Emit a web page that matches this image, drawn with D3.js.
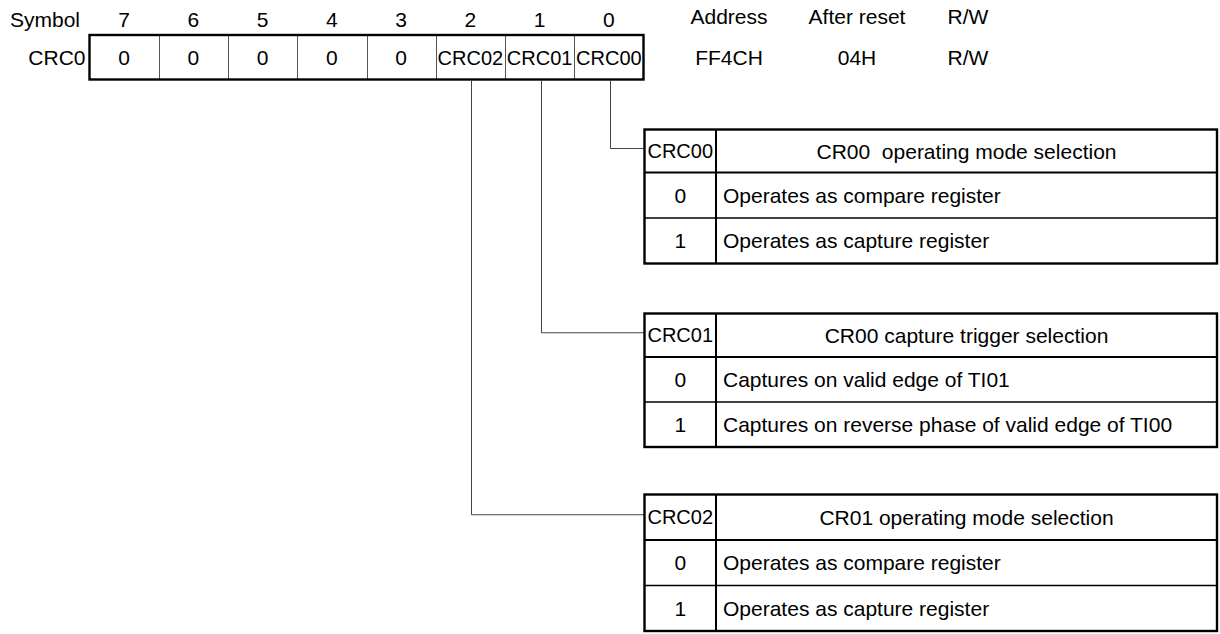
<!DOCTYPE html>
<html>
<head>
<meta charset="utf-8">
<script src="https://cdn.jsdelivr.net/npm/d3@7"></script>
<style>
  html, body { margin: 0; padding: 0; background: #fff; }
  svg text { font-family: "Liberation Sans", Arial, Helvetica, sans-serif; fill: #000; white-space: pre; }
</style>
</head>
<body>
<svg id="chart" width="1220" height="634"></svg>
<script>
// ---- data ----
const symbolLabel = "Symbol";
const registerName = "CRC0";
const bitNumbers = [7, 6, 5, 4, 3, 2, 1, 0];
const bitNames = ["0", "0", "0", "0", "0", "CRC02", "CRC01", "CRC00"];
const infoHeaders = ["Address", "After reset", "R/W"];
const infoValues = ["FF4CH", "04H", "R/W"];
const fieldNames = ["CRC00", "CRC01", "CRC02"];
const fieldTitles = ["CR00  operating mode selection", "CR00 capture trigger selection", "CR01 operating mode selection"];
const fieldSettings = ["0", "1"];
const crc00Desc = ["Operates as compare register", "Operates as capture register"];
const crc01Desc = ["Captures on valid edge of TI01", "Captures on reverse phase of valid edge of TI00"];
const crc02Desc = ["Operates as compare register", "Operates as capture register"];

// ---- layout ----
const svg = d3.select("#chart");
const FS = 21;
const regTop = 35, regBottom = 79.5;
const x = d3.scaleBand().domain(bitNumbers).range([89.5, 643.5]);
const infoX = d3.scalePoint().domain(infoHeaders).range([729, 857]);
const infoXs = [729, 857, 968];

// header row
svg.append("text").attr("x", 10).attr("y", 27).attr("font-size", FS).text(symbolLabel);
svg.selectAll(".bitnum").data(bitNumbers).join("text")
  .attr("class", "bitnum")
  .attr("x", d => x(d) + x.bandwidth() / 2)
  .attr("y", 27).attr("text-anchor", "middle").attr("font-size", FS)
  .text(d => d);

// register name
svg.append("text").attr("x", 85.5).attr("y", 65).attr("text-anchor", "end")
  .attr("font-size", FS).text(registerName);

// register cells (inner dividers)
svg.selectAll(".div").data(bitNumbers.slice(1)).join("line")
  .attr("x1", d => Math.round(x(d)) + 0.5).attr("x2", d => Math.round(x(d)) + 0.5)
  .attr("y1", regTop).attr("y2", regBottom)
  .attr("stroke", "#555").attr("stroke-width", 1);
svg.append("rect").attr("x", x(7)).attr("y", regTop)
  .attr("width", x.range()[1] - x.range()[0]).attr("height", regBottom - regTop)
  .attr("fill", "none").attr("stroke", "#000").attr("stroke-width", 2.4);
svg.selectAll(".bitname").data(bitNames).join("text")
  .attr("x", (d, i) => x(bitNumbers[i]) + x.bandwidth() / 2)
  .attr("y", 65).attr("text-anchor", "middle")
  .attr("font-size", d => d.length > 1 ? 20 : FS)
  .text(d => d);

// info columns
infoHeaders.forEach((h, i) => {
  const cx = infoXs[i];
  svg.append("text").attr("x", cx).attr("y", 24).attr("text-anchor", "middle").attr("font-size", FS).text(h);
  svg.append("text").attr("x", cx).attr("y", 65).attr("text-anchor", "middle").attr("font-size", FS).text(infoValues[i]);
});

// tables
const tableLeft = 644.5, tableRight = 1217, col1 = 716;
const tables = [
  { name: fieldNames[0], title: fieldTitles[0], desc: crc00Desc, bit: 0, top: 129.5, hh: 43, rh: 45.5 },
  { name: fieldNames[1], title: fieldTitles[1], desc: crc01Desc, bit: 1, top: 313.5, hh: 43.5, rh: 45 },
  { name: fieldNames[2], title: fieldTitles[2], desc: crc02Desc, bit: 2, top: 494.5, hh: 45.5, rh: 45.5 }
];

tables.forEach(t => {
  const g = svg.append("g");
  const bottom = t.top + t.hh + 2 * t.rh;
  const cx = Math.round(x(t.bit) + x.bandwidth() / 2) + 1.5;
  const cy = t.top + t.hh / 2 - 2.5;
  // connector
  g.append("path")
    .attr("d", `M${cx},${regBottom + 1}V${cy}H${tableLeft}`)
    .attr("fill", "none").attr("stroke", "#444").attr("stroke-width", 1);
  // row dividers
  g.append("line").attr("x1", tableLeft).attr("x2", tableRight)
    .attr("y1", t.top + t.hh).attr("y2", t.top + t.hh)
    .attr("stroke", "#000").attr("stroke-width", 1.8);
  g.append("line").attr("x1", tableLeft).attr("x2", tableRight)
    .attr("y1", t.top + t.hh + t.rh).attr("y2", t.top + t.hh + t.rh)
    .attr("stroke", "#000").attr("stroke-width", 1.3);
  g.append("line").attr("x1", col1).attr("x2", col1)
    .attr("y1", t.top).attr("y2", bottom)
    .attr("stroke", "#000").attr("stroke-width", 2);
  g.append("rect").attr("x", tableLeft).attr("y", t.top)
    .attr("width", tableRight - tableLeft).attr("height", bottom - t.top)
    .attr("fill", "none").attr("stroke", "#000").attr("stroke-width", 2.4);
  // header texts
  g.append("text").attr("x", (tableLeft + col1) / 2).attr("y", t.top + t.hh / 2 + 7)
    .attr("text-anchor", "middle").attr("font-size", 20).text(t.name);
  g.append("text").attr("x", (col1 + tableRight) / 2).attr("y", t.top + t.hh / 2 + 7.5)
    .attr("text-anchor", "middle").attr("font-size", FS).text(t.title);
  // rows
  fieldSettings.forEach((v, i) => {
    const y = t.top + t.hh + i * t.rh + t.rh / 2 + 7.5;
    g.append("text").attr("x", (tableLeft + col1) / 2).attr("y", y)
      .attr("text-anchor", "middle").attr("font-size", FS).text(v);
    g.append("text").attr("x", 723).attr("y", y)
      .attr("font-size", FS).text(t.desc[i]);
  });
});
</script>
</body>
</html>
